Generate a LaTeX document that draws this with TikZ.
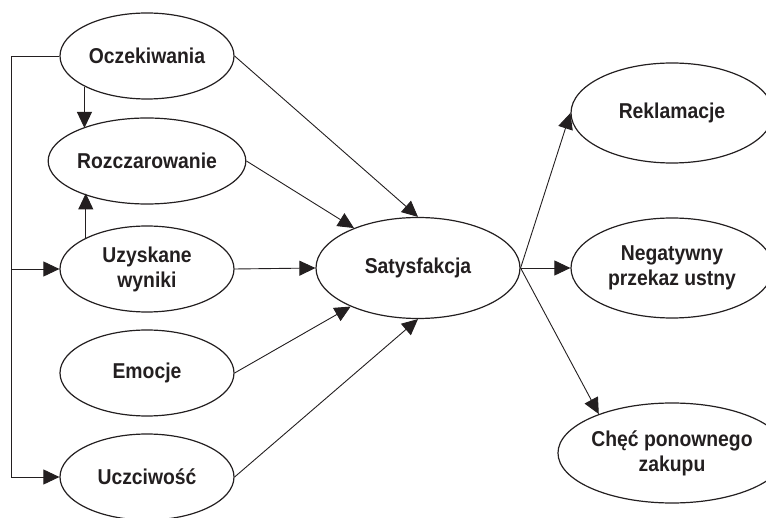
\documentclass[tikz,border=0pt]{standalone}
\usepackage{fontspec}
\setmainfont{Liberation Sans}[FakeStretch=0.9]
\usetikzlibrary{shapes.geometric,arrows.meta}
\definecolor{ink}{HTML}{231F20}
\begin{document}
\begin{tikzpicture}[x=1pt,y=-1pt,
  every node/.style={text=ink,font=\fontsize{21.5}{25}\selectfont\bfseries,align=center},
  factor/.style={ellipse,draw=ink,line width=1.2pt,inner sep=0pt,minimum width=174pt,minimum height=86pt},
  core/.style={ellipse,draw=ink,line width=1.2pt,inner sep=0pt,minimum width=204pt,minimum height=101pt},
  effect/.style={ellipse,draw=ink,line width=1.2pt,inner sep=0pt,minimum width=202pt,minimum height=100pt},
  link/.style={draw=ink,line width=0.9pt},
  arr/.style={link,-{Triangle[length=16pt,width=15pt]}}]
\useasboundingbox (0,0) rectangle (766,518);
\clip (0,0) rectangle (766,518);

% antecedents
\node[factor] (oczek) at (147,56)  {Oczekiwania};
\node[factor] (rozcz) at (147,161) {Rozczarowanie};
\node[factor] (uzysk) at (147,269) {Uzyskane\\wyniki};
\node[factor] (emoc)  at (147,373) {Emocje};
\node[factor] (uczc)  at (147,477) {Uczciwość};

% central construct
\node[core] (satys) at (418,268) {Satysfakcja};

% consequences
\node[effect] (rekl) at (672,113) {Reklamacje};
\node[effect] (negat) at (672,268) {Negatywny\\przekaz ustny};
\node[effect] (chec) at (672,453) {Chęć ponownego\\zakupu};

% left rail
\coordinate (railtop) at (11,56);
\coordinate (railmid) at (11,269);
\coordinate (railbot) at (11,477);
\draw[link] (oczek.west) -- (railtop) -- (railbot);
\draw[arr] (railbot) -- (uczc.west);
\draw[arr] (railmid) -- (uzysk.west);

% links between antecedents (vertical, left of centre)
\draw[arr] (oczek.206.7) -- (oczek.206.7 |- rozcz.153.3);
\draw[arr] (uzysk.153.3) -- (uzysk.153.3 |- rozcz.206.7);

% antecedents to satisfaction
\draw[arr] (oczek.east) -- (satys.north);
\draw[arr] (rozcz.east) -- (satys);
\draw[arr] (uzysk.east) -- (satys.west);
\draw[arr] (emoc.east) -- (satys);
\draw[arr] (uczc.east) -- (satys.south);

% satisfaction to consequences
\draw[arr] (satys.east) -- (rekl.west);
\draw[arr] (satys.east) -- (negat.west);
\draw[arr] (satys.east) -- (chec.152);
\end{tikzpicture}
\end{document}
